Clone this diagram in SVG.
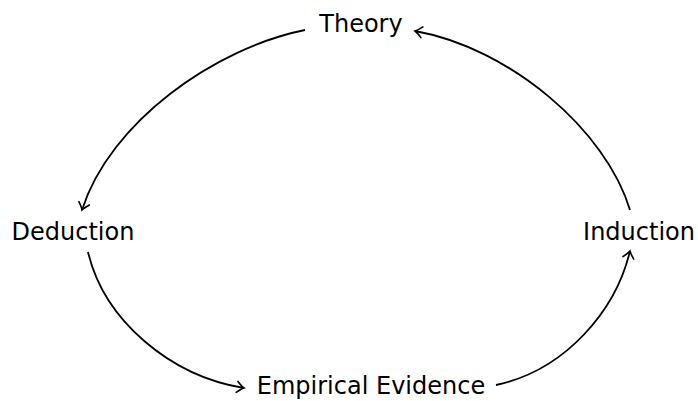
<svg xmlns="http://www.w3.org/2000/svg" width="698" height="401" viewBox="0 0 698 401">
<style>
text{font-family:"DejaVu Sans","Liberation Sans",sans-serif;font-size:24px;fill:#000;text-anchor:middle;dominant-baseline:central}
.e{fill:none;stroke:#000;stroke-width:1.8;marker-end:url(#a)}
</style>
<defs>
<marker id="a" markerUnits="userSpaceOnUse" markerWidth="16" markerHeight="16" viewBox="-9 -8 11 16" refX="0" refY="0" orient="auto">
<path d="M-7,-5.5 Q-2.5,-1.2 0,0 Q-2.5,1.2 -7,5.5" fill="none" stroke="#000" stroke-width="1.6" stroke-linecap="round"/>
</marker>
</defs>
<rect width="698" height="401" fill="#fff"/>
<g id="connectors">
<path class="e" d="M305,30 C215,48 110,122 82,210"/>
<path class="e" d="M88,252 C104,320 170,376 244,388"/>
<path class="e" d="M496,385 C566,370 616,310 630,251"/>
<path class="e" d="M630,210 C606,130 510,48 415,31"/>
</g>
<g id="theory"><text x="361" y="24">Theory</text></g>
<g id="deduction"><text x="73" y="232">Deduction</text></g>
<g id="induction"><text x="639" y="232">Induction</text></g>
<g id="evidence"><text x="371" y="386">Empirical Evidence</text></g>
</svg>
